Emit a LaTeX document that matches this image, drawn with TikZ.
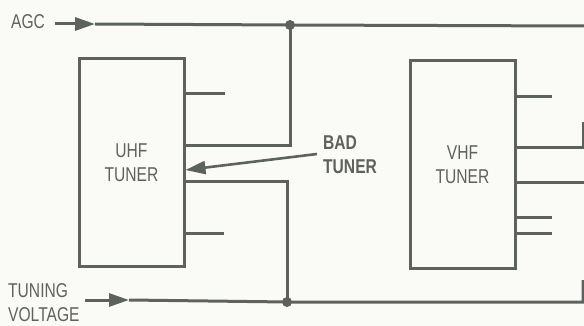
\documentclass[tikz,border=0pt]{standalone}
\usepackage{fontspec}
\setmainfont{Liberation Sans}[FakeStretch=0.78]
\usepackage{xcolor}
\definecolor{ink}{HTML}{5E625F}
\definecolor{paper}{HTML}{FAFBF6}
\usepackage{tikz}
\usetikzlibrary{arrows.meta, positioning}
\tikzset{%
    wire/.style={%
        draw=ink, line width=3pt, line join=miter
    },
    tip/.style={%
        -{Triangle[length=20pt, width=13pt]}
    },
    tuner/.style={%
        draw=ink, line width=3pt, rectangle, align=center,
        minimum width=105pt, minimum height=207pt, text=ink,
    },
    lbl/.style={%
        text=ink, align=left, inner sep=0pt,
    },
}

\begin{document}
\begin{tikzpicture}[x=1pt, y=-1pt,
        every node/.append style={font=\fontsize{20}{24}\selectfont},
        dot/.style={fill=ink},
    ]
        \fill[paper] (0,0) rectangle (584,326);
        \useasboundingbox (0,0) rectangle (584,326);

        % the two tuners
        \node[tuner] (uhf) at (131.5,162.5) {UHF\\TUNER};
        \node[tuner] (vhf) at (462.5,164.5) {VHF\\TUNER};

        % labels
        \node[lbl] (agc) at (28,22) {AGC};
        \node[lbl, anchor=west] (tuning) at (8,303) {TUNING\\VOLTAGE};
        \node[lbl, anchor=west, font=\fontsize{20}{24}\selectfont\bfseries] (bad) at (323,155) {BAD\\TUNER};

        % AGC bus
        \coordinate (agcin) at (55,24);
        \coordinate (agcarr) at (95,24);
        \coordinate (agcdot) at (290,25);
        \coordinate (agcend) at (584,26);
        \draw[wire, tip] (agcin) -- (agcarr);
        \draw[wire] (agcarr) -- (agcdot) -- (agcend);
        \draw[wire] (agcdot) -- (agcdot |- 0,146) -- (uhf.east |- 0,146);
        \fill[dot] (agcdot) circle (5pt);

        % tuning voltage bus
        \coordinate (tvin) at (85,300);
        \coordinate (tvarr) at (129,300);
        \coordinate (tvdot) at (287,302);
        \draw[wire, tip] (tvin) -- (tvarr);
        \draw[wire] (tvarr) -- (tvdot) -- (583,302) -- (583,280);
        \draw[wire] (uhf.east |- 0,182) -- (tvdot |- 0,182) -- (tvdot);
        \fill[dot] (tvdot) circle (5pt);

        % stubs
        \draw[wire] (uhf.east |- 0,94) -- ++(39,0);
        \draw[wire] (uhf.east |- 0,233) -- ++(38,0);
        \draw[wire] (vhf.east |- 0,97) -- ++(35,0);
        \draw[wire] (vhf.east |- 0,217) -- ++(35,0);
        \draw[wire] (vhf.east |- 0,233) -- ++(35,0);
        \draw[wire] (vhf.east |- 0,148) -- (583,148) -- (583,122);
        \draw[wire] (vhf.east |- 0,183) -- (584,183);

        \draw[wire, tip, line width=2.6pt] (bad.west |- 0,154) ++(-6,0) -- (uhf.east |- 0,170);
    \end{tikzpicture}
\end{document}
